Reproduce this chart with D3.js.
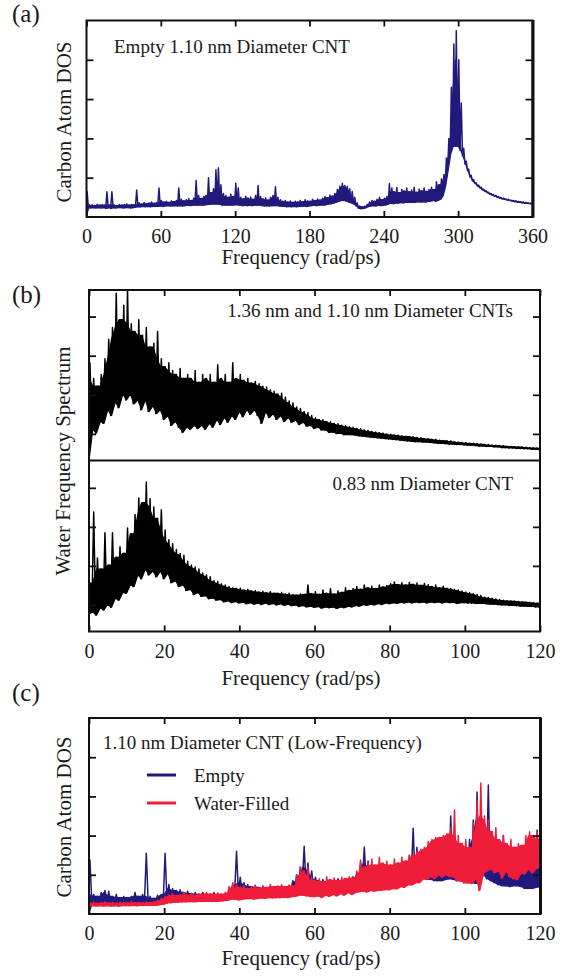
<!DOCTYPE html>
<html>
<head>
<meta charset="utf-8">
<script src="https://cdn.jsdelivr.net/npm/d3@7"></script>
<style>
body { margin: 0; background: #fff; }
text { font-family: "Liberation Serif", "Times New Roman", serif; fill: #1a1a1a; }
</style>
</head>
<body>
<script>
// ---- tick labels
var ticksA = [0, 60, 120, 180, 240, 300, 360];
var ticksBC = [0, 20, 40, 60, 80, 100, 120];
var yTicksAC = [1, 2, 3, 4];
var yTicksB = [0.68, 1.68, 2.68, 3.68];

// ---- (a) empty 1.10 nm CNT, carbon DOS, sampled every 2 rad/ps (upper / lower edge of the noisy band)
var freqA = d3.range(0, 361, 2);
var dosA_hi = [
  .65,.30,.31,.29,.32,.30,.31,.30,.64,.30,
  .64,.31,.29,.32,.30,.31,.33,.30,.32,.31,
  .69,.36,.33,.37,.34,.36,.38,.35,.37,.74,
  .42,.38,.40,.37,.41,.39,.42,.74,.45,.41,
  .44,.47,.42,.48,.93,.55,.47,.52,.55,1.00,
  .62,.72,1.20,1.25,.82,.60,.55,.50,.58,.52,
  .86,.74,.50,.46,.53,.48,.51,.45,.55,.80,
  .52,.46,.49,.43,.50,.55,.77,.50,.44,.40,
  .42,.38,.41,.37,.40,.38,.42,.39,.44,.41,
  .40,.45,.42,.46,.43,.48,.52,.49,.56,.53,
  .60,.70,.78,.86,.80,.78,.72,.65,.50,.36,
  .28,.26,.27,.32,.38,.42,.40,.45,.50,.44,
  .48,.52,.85,.74,.64,.75,.62,.70,.66,.74,
  .64,.69,.76,.63,.71,.67,.74,.65,.70,.76,
  .70,.90,.82,.97,1.08,1.50,2.00,3.30,4.40,4.74,
  4.00,2.90,1.75,1.42,1.22,1.06,.95,.87,.81,.76,
  .71,.67,.63,.60,.57,.55,.52,.50,.48,.46,
  .45,.43,.42,.41,.40,.39,.38,.37,.36,.35,
  .35];
var dosA_lo = [
  .05,.24,.23,.24,.23,.24,.23,.24,.22,.24,
  .22,.24,.23,.24,.24,.23,.24,.24,.23,.24,
  .25,.26,.26,.27,.26,.27,.26,.27,.27,.27,
  .28,.27,.28,.29,.28,.28,.29,.28,.29,.28,
  .29,.30,.29,.30,.30,.30,.31,.30,.31,.32,
  .32,.33,.33,.33,.32,.30,.31,.30,.31,.30,
  .31,.31,.30,.29,.30,.29,.30,.29,.30,.30,
  .30,.29,.28,.29,.28,.29,.29,.29,.28,.27,
  .27,.26,.27,.26,.27,.26,.27,.27,.28,.27,
  .28,.29,.30,.29,.30,.31,.30,.32,.33,.34,
  .36,.38,.40,.42,.42,.40,.38,.36,.33,.28,
  .22,.21,.22,.24,.27,.28,.29,.28,.30,.29,
  .30,.31,.33,.35,.34,.36,.35,.37,.36,.38,
  .37,.38,.37,.38,.39,.38,.39,.38,.40,.40,
  .42,.40,.42,.45,.55,.80,1.20,1.60,1.80,1.80,
  1.80,1.70,1.55,1.35,1.18,1.02,.92,.85,.79,.74,
  .69,.65,.62,.58,.55,.53,.50,.48,.46,.45,
  .43,.42,.40,.39,.38,.37,.36,.35,.35,.34,
  .33];

// ---- (b) water frequency spectrum, every 1 rad/ps
var freqB = d3.range(0, 121, 1);
var wideCNT_hi = [
  2.50,2.10,1.90,2.20,2.60,3.10,3.40,4.28,3.60,3.97,
  4.36,3.50,3.30,3.60,3.20,3.40,2.90,3.00,3.30,2.60,
  2.40,2.50,2.30,2.20,2.35,2.10,2.20,2.10,2.30,2.00,
  2.20,2.10,2.20,2.00,2.45,2.10,2.20,2.00,2.50,2.10,
  2.20,2.05,2.10,1.98,2.02,1.96,1.90,1.88,1.80,1.77,
  1.70,1.72,1.62,1.52,1.47,1.37,1.33,1.25,1.22,1.15,
  1.09,1.05,1.04,1.00,.99,.95,.94,.90,.89,.86,
  .85,.82,.81,.78,.77,.74,.73,.71,.70,.68,
  .67,.65,.65,.63,.62,.61,.61,.59,.58,.56,
  .56,.54,.54,.52,.51,.50,.50,.48,.47,.46,
  .46,.44,.44,.43,.42,.41,.41,.39,.39,.38,
  .38,.36,.36,.35,.35,.34,.34,.33,.32,.32,
  .31];
var wideCNT_lo = [
  0.00,.80,.70,1.00,.95,1.30,1.15,1.50,1.35,1.70,
  1.55,1.70,1.45,1.55,1.30,1.55,1.25,1.40,1.20,1.30,
  1.05,1.15,.90,1.00,.85,.72,.85,.80,.90,.82,
  .90,.80,.95,.85,1.05,.92,1.10,.98,1.15,1.05,
  1.25,1.12,1.30,1.18,1.30,1.15,.95,1.25,1.10,1.20,
  1.05,1.15,1.00,1.10,.98,1.03,.92,.98,.88,.90,
  .82,.85,.78,.78,.72,.73,.69,.70,.66,.67,
  .66,.65,.63,.62,.61,.60,.59,.58,.57,.56,
  .55,.54,.53,.52,.51,.50,.49,.48,.48,.47,
  .47,.46,.45,.44,.44,.43,.42,.42,.41,.41,
  .40,.39,.39,.38,.37,.37,.36,.36,.35,.35,
  .33,.33,.32,.32,.31,.31,.30,.30,.29,.29,
  .28];
var narrowCNT_hi = [
  1.24,3.06,1.88,1.60,2.53,1.70,2.53,1.90,2.17,2.00,
  2.65,2.50,3.00,3.42,3.30,3.83,3.40,3.19,2.90,3.12,
  2.60,2.35,2.25,2.10,2.00,1.95,1.80,1.70,1.65,1.60,
  1.50,1.45,1.40,1.30,1.28,1.22,1.19,1.15,1.12,1.10,
  1.11,1.06,1.08,1.04,1.05,1.01,1.03,.99,1.02,.98,
  .98,1.00,.96,.98,.94,.93,.96,.95,1.19,.97,
  1.02,.95,1.06,.98,1.10,.96,1.04,1.00,1.12,1.05,
  1.10,1.15,1.08,1.19,1.12,1.16,1.10,1.19,1.14,1.18,
  1.22,1.27,1.20,1.25,1.19,1.26,1.21,1.24,1.18,1.23,
  1.20,1.15,1.19,1.12,1.16,1.11,1.10,1.08,1.06,1.04,
  1.01,.99,.97,.95,.92,.88,.87,.85,.83,.82,
  .80,.79,.78,.78,.77,.76,.75,.75,.74,.73,
  .72];
var narrowCNT_lo = [
  .45,.50,.42,.60,.55,.70,.62,.85,.80,1.00,
  .98,1.20,1.15,1.45,1.35,1.60,1.45,1.55,1.40,1.55,
  1.35,1.50,1.25,1.30,1.15,1.20,1.05,1.08,.95,1.00,
  .90,.92,.84,.86,.80,.82,.76,.79,.74,.77,
  .73,.75,.71,.74,.70,.73,.69,.73,.69,.72,
  .68,.71,.67,.70,.66,.68,.64,.67,.63,.65,
  .62,.64,.60,.63,.61,.63,.59,.63,.61,.65,
  .63,.67,.65,.69,.67,.70,.68,.72,.69,.73,
  .71,.74,.72,.75,.73,.76,.73,.76,.74,.76,
  .73,.76,.74,.76,.73,.76,.74,.75,.72,.74,
  .74,.73,.73,.72,.72,.72,.71,.70,.70,.69,
  .68,.68,.67,.67,.66,.65,.65,.64,.64,.63,
  .63];

// ---- (c) 1.10 nm CNT low-frequency carbon DOS, every 1 rad/ps
var freqC = d3.range(0, 121, 1);
var empty_hi = [
  1.38,.50,.45,.55,.60,.58,.45,.50,.42,.45,
  .42,.45,.55,.45,.50,1.55,.45,.40,.48,.50,
  1.55,.75,.65,.60,.62,.55,.58,.52,.55,.50,
  .55,.52,.50,.55,.50,.48,.52,.60,.75,1.60,
  .94,.80,.75,.70,.72,.68,.70,.65,.70,.68,
  .66,.70,.65,.72,.85,1.00,1.20,1.73,1.30,1.10,
  .94,.85,.88,.82,.85,.80,.90,.82,.88,.85,
  .95,1.05,1.30,1.71,1.35,1.20,1.10,1.20,1.05,1.15,
  1.10,1.05,1.15,1.05,1.20,1.50,2.19,1.70,1.40,1.50,
  1.30,1.50,1.40,1.60,1.50,1.80,2.50,1.90,1.70,1.80,
  1.60,1.90,2.40,3.11,2.50,2.00,3.29,2.10,1.60,1.80,
  2.00,1.70,1.50,1.60,1.70,1.60,1.50,1.40,1.60,2.14,
  2.00];
var empty_lo = [
  .05,.28,.28,.28,.30,.30,.28,.28,.28,.28,
  .28,.28,.30,.30,.30,.30,.30,.30,.32,.33,
  .33,.35,.35,.36,.36,.37,.38,.38,.38,.40,
  .40,.40,.40,.40,.42,.42,.42,.45,.50,.55,
  .55,.50,.50,.50,.52,.52,.53,.53,.55,.55,
  .55,.56,.58,.60,.62,.65,.70,.75,.72,.70,
  .68,.68,.68,.70,.70,.70,.72,.72,.73,.74,
  .76,.78,.80,.82,.82,.85,.85,.85,.85,.86,
  .86,.86,.87,.88,.90,.92,.95,.90,.90,.90,
  .88,.88,.85,.85,.85,.88,.90,.88,.85,.85,
  .80,.80,.80,.78,.85,1.00,.90,.85,.80,.75,
  .72,.72,.70,.72,.72,.70,.65,.65,.65,.68,
  .70];
var filled_hi = [
  .28,.30,.27,.29,.31,.28,.30,.27,.29,.30,
  .28,.31,.29,.30,.28,.31,.29,.32,.35,.40,
  .45,.48,.52,.47,.50,.55,.49,.53,.48,.52,
  .50,.55,.52,.50,.54,.51,.55,.70,.80,.75,
  .68,.72,.65,.70,.74,.66,.72,.68,.75,.70,
  .72,.75,.70,.74,.72,1.00,1.20,1.10,1.20,.95,
  .85,.90,.82,.95,.88,.92,.85,.94,.90,.95,
  .92,1.10,1.38,1.20,1.30,1.40,1.25,1.45,1.30,1.35,
  1.25,1.40,1.30,1.45,1.35,1.50,1.50,1.60,1.65,1.70,
  1.85,1.90,1.95,1.95,2.00,2.05,2.20,2.65,2.00,1.80,
  1.90,1.70,2.30,2.90,3.34,2.50,2.40,2.10,2.20,1.90,
  2.00,1.80,1.90,1.70,1.80,1.75,2.00,2.10,2.00,2.10,
  1.90];
var filled_lo = [
  .20,.21,.20,.21,.20,.21,.20,.21,.20,.21,
  .21,.21,.22,.21,.22,.22,.22,.22,.22,.24,
  .25,.28,.29,.30,.30,.31,.31,.32,.31,.32,
  .32,.33,.32,.33,.32,.33,.34,.35,.38,.38,
  .36,.38,.39,.40,.38,.40,.41,.40,.42,.41,
  .42,.42,.43,.42,.44,.45,.48,.48,.46,.45,
  .44,.46,.42,.48,.45,.50,.46,.52,.48,.55,
  .50,.55,.57,.58,.56,.60,.58,.60,.61,.62,
  .62,.65,.64,.70,.68,.75,.74,.80,.80,.90,
  .88,.95,.90,1.00,.94,1.00,.95,.95,.85,.85,
  .80,.80,.78,.90,.60,1.05,1.10,1.15,1.05,1.10,
  .92,1.10,.95,.90,.88,1.05,1.02,1.15,1.05,1.15,
  1.20];

var blue = "#211a7c", red = "#ee1d3a", ink = "#111";

var svg = d3.select("body").append("svg")
    .attr("width", 572)
    .attr("height", 977);
svg.append("rect").attr("width", 572).attr("height", 977).attr("fill", "#fff");

// a noisy spectrum: a solid core (lower edge up to the lowest neighbouring
// needle top) and a zigzag through both edges that draws the needles
function drawNoisy(freq, lo, hi, x, y, step, color, clipId){
    var rows = freq.map(function(f, i){
        var core = d3.min([hi[Math.max(i - 1, 0)], hi[i], hi[Math.min(i + 1, hi.length - 1)]]);
        return {f: f, lo: lo[i], hi: hi[i], core: Math.max(core, lo[i])};
    });
    var band = d3.area()
        .x(function(d){ return x(d.f); })
        .y0(function(d){ return y(d.lo); })
        .y1(function(d){ return y(d.core); });
    svg.append("path")
        .attr("d", band(rows))
        .attr("clip-path", "url(#" + clipId + ")")
        .attr("fill", color).attr("stroke", color)
        .attr("stroke-width", 1.2).attr("stroke-linejoin", "round");
    var pts = [];
    rows.forEach(function(d){
        pts.push([x(d.f - step/4), y(d.lo)]);
        pts.push([x(d.f + step/4), y(d.hi)]);
    });
    svg.append("path")
        .attr("d", d3.line()(pts))
        .attr("clip-path", "url(#" + clipId + ")")
        .attr("fill", "none").attr("stroke", color)
        .attr("stroke-width", 1.5).attr("stroke-linejoin", "round");
}

function clip(id, x0, y0, x1, y1){
    svg.append("clipPath").attr("id", id)
        .append("rect").attr("x", x0).attr("y", y0)
        .attr("width", x1 - x0).attr("height", y1 - y0);
}

function styleAxis(g, size){
    g.select(".domain").remove();
    g.selectAll("line").attr("stroke", ink).attr("stroke-width", 1.8);
    g.selectAll("text").attr("font-size", size || "20px")
        .attr("font-family", "Liberation Serif, Times New Roman, serif").attr("fill", "#1a1a1a");
}

function xAxes(x, ticks, yTop, yBot){
    svg.append("g").attr("transform", "translate(0," + yBot + ")")
        .call(d3.axisBottom(x).tickValues(ticks).tickSize(-6).tickPadding(12).tickFormat(d3.format("d")))
        .call(styleAxis);
    svg.append("g").attr("transform", "translate(0," + yTop + ")")
        .call(d3.axisTop(x).tickValues(ticks).tickSize(-6).tickFormat(""))
        .call(styleAxis);
}

function yAxes(y, ticks, xl, xr){
    svg.append("g").attr("transform", "translate(" + xl + ",0)")
        .call(d3.axisLeft(y).tickValues(ticks).tickSize(-7).tickFormat(""))
        .call(styleAxis);
    svg.append("g").attr("transform", "translate(" + xr + ",0)")
        .call(d3.axisRight(y).tickValues(ticks).tickSize(-7).tickFormat(""))
        .call(styleAxis);
}

function yLabel(txt, x, yc){
    svg.append("text")
        .attr("transform", "translate(" + x + "," + yc + ") rotate(-90)")
        .attr("text-anchor", "middle")
        .attr("font-size", "21px")
        .text(txt);
}

function xLabel(y){
    svg.append("text")
        .attr("x", 301).attr("y", y)
        .attr("text-anchor", "middle")
        .attr("font-size", "21px")
        .text("Frequency (rad/ps)");
}

function panelTag(txt, y){
    svg.append("text").attr("x", 12).attr("y", y)
        .attr("font-size", "25px").text(txt);
}

// ================= (a)
var xA = d3.scaleLinear().domain([0, 360]).range([86.5, 532.5]);
var yA = d3.scaleLinear().domain([0, 5]).range([217, 20.5]);
clip("clipA", 86.5, 20.5, 532.5, 217);

drawNoisy(freqA, dosA_lo, dosA_hi, xA, yA, 2, blue, "clipA");

xAxes(xA, ticksA, 20.5, 217);
yAxes(yA, yTicksAC, 86.5, 532.5);
svg.append("rect").attr("x", 86.5).attr("y", 20.5).attr("width", 446).attr("height", 196.5)
    .attr("fill", "none").attr("stroke", ink).attr("stroke-width", 2);
svg.append("line").attr("x1", 533).attr("x2", 533).attr("y1", 20).attr("y2", 217.5)
    .attr("stroke", ink).attr("stroke-width", 3);

svg.append("text").attr("x", 114).attr("y", 53).attr("font-size", "19px")
    .text("Empty 1.10 nm Diameter CNT");
yLabel("Carbon Atom DOS", 71, 122);
xLabel(264);
panelTag("(a)", 22);

// ================= (b)
var xB = d3.scaleLinear().domain([0, 120]).range([89, 540]);
var yB1 = d3.scaleLinear().domain([0, 4.36]).range([460.5, 290]);
var yB2 = d3.scaleLinear().domain([0, 4.38]).range([631.5, 460.5]);
clip("clipB1", 89, 290, 540, 460.5);
clip("clipB2", 89, 460.5, 540, 631.5);

drawNoisy(freqB, wideCNT_lo, wideCNT_hi, xB, yB1, 1, "#000", "clipB1");
drawNoisy(freqB, narrowCNT_lo, narrowCNT_hi, xB, yB2, 1, "#000", "clipB2");

xAxes(xB, ticksBC, 290, 631.5);
yAxes(yB1, yTicksB, 89, 540);
yAxes(yB2, yTicksB, 89, 540);
svg.append("rect").attr("x", 89).attr("y", 290).attr("width", 451).attr("height", 341.5)
    .attr("fill", "none").attr("stroke", ink).attr("stroke-width", 2);
svg.append("line").attr("x1", 89).attr("x2", 540).attr("y1", 460.5).attr("y2", 460.5)
    .attr("stroke", ink).attr("stroke-width", 2);

svg.append("text").attr("x", 513).attr("y", 317).attr("text-anchor", "end").attr("font-size", "19px")
    .text("1.36 nm and 1.10 nm Diameter CNTs");
svg.append("text").attr("x", 513).attr("y", 490).attr("text-anchor", "end").attr("font-size", "19px")
    .text("0.83 nm Diameter CNT");
yLabel("Water Frequency Spectrum", 70, 461);
xLabel(685);
panelTag("(b)", 303);

// ================= (c)
var xC = d3.scaleLinear().domain([0, 120]).range([89, 540]);
var yC = d3.scaleLinear().domain([0, 5]).range([914, 718]);
clip("clipC", 89, 718, 540, 914);

drawNoisy(freqC, empty_lo, empty_hi, xC, yC, 1, blue, "clipC");
drawNoisy(freqC, filled_lo, filled_hi, xC, yC, 1, red, "clipC");

xAxes(xC, ticksBC, 718, 914);
yAxes(yC, yTicksAC, 89, 540);
svg.append("rect").attr("x", 89).attr("y", 718).attr("width", 451).attr("height", 196)
    .attr("fill", "none").attr("stroke", ink).attr("stroke-width", 2);
svg.append("line").attr("x1", 540.5).attr("x2", 540.5).attr("y1", 717.5).attr("y2", 914.5)
    .attr("stroke", ink).attr("stroke-width", 3);

svg.append("text").attr("x", 103).attr("y", 749).attr("font-size", "19px")
    .text("1.10 nm Diameter CNT (Low-Frequency)");

// legend
var legend = [["Empty", blue, 775], ["Water-Filled", red, 803]];
var lg = svg.selectAll(".lg").data(legend).enter().append("g");
lg.append("line")
    .attr("x1", 147).attr("x2", 176)
    .attr("y1", function(d){ return d[2]; }).attr("y2", function(d){ return d[2]; })
    .attr("stroke", function(d){ return d[1]; }).attr("stroke-width", 3);
lg.append("text")
    .attr("x", 194).attr("y", function(d){ return d[2] + 7; })
    .attr("font-size", "19px")
    .text(function(d){ return d[0]; });

yLabel("Carbon Atom DOS", 71, 817);
xLabel(965);
panelTag("(c)", 701);
</script>
</body>
</html>
